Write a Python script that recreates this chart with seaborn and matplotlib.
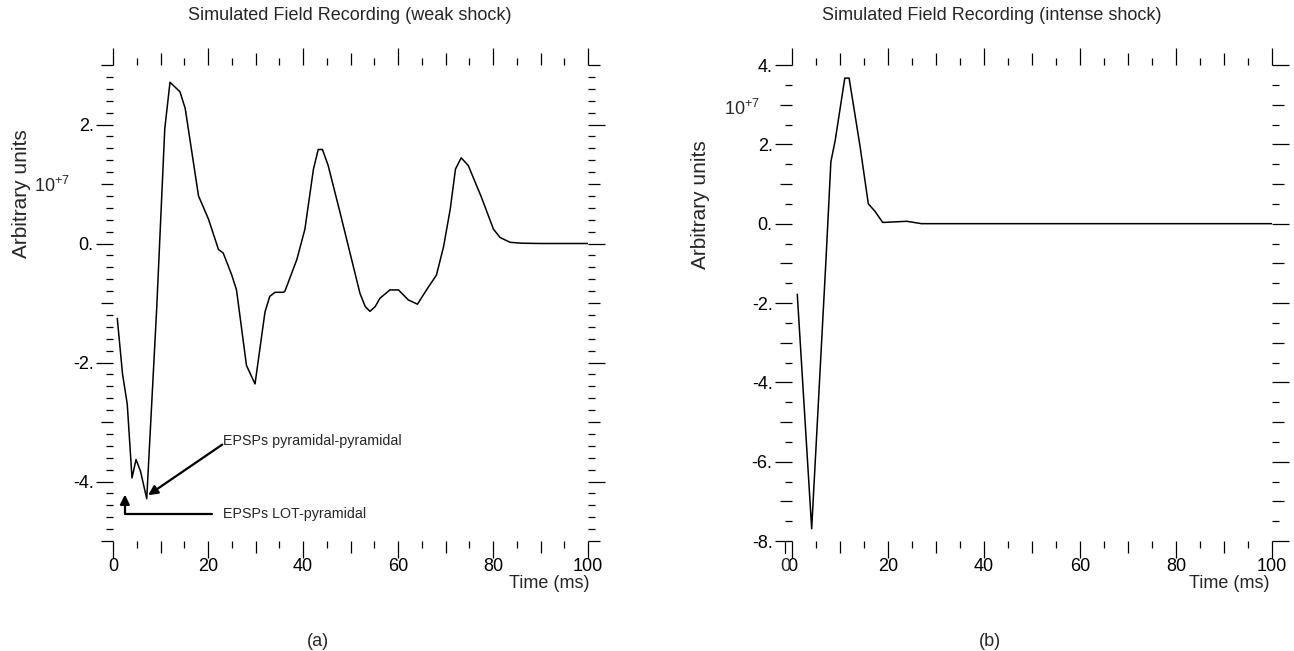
import numpy as np
import seaborn as sns
import matplotlib
matplotlib.use("Agg")
import matplotlib.pyplot as plt
import matplotlib.transforms as mtransforms
from matplotlib.ticker import FixedLocator, FuncFormatter

# values in units of 10^7
weak_t = [0.9, 2.0, 3.0, 4.0, 4.85, 5.8, 7.1, 9.2, 10.9, 12.0, 14.1, 15.2, 18.0, 20.1,
          22.2, 23.2, 25.0, 26.0, 28.1, 29.9, 32.0, 33.0, 34.1, 35.9, 36.2, 38.7, 40.4,
          42.2, 43.2, 44.1, 45.3, 47.8, 49.9, 52.0, 53.1, 54.1, 55.2, 56.2, 58.3, 60.1,
          62.2, 64.1, 66.0, 68.1, 69.6, 71.0, 72.1, 73.3, 74.8, 77.5, 80.1, 81.5, 83.6,
          86.0, 90.0, 100.0]
weak_v = [-1.26, -2.19, -2.70, -3.94, -3.63, -3.83, -4.29, -1.09, 1.93, 2.71, 2.55, 2.27,
          0.80, 0.41, -0.10, -0.16, -0.53, -0.78, -2.05, -2.36, -1.15, -0.89, -0.82,
          -0.82, -0.80, -0.27, 0.24, 1.25, 1.58, 1.58, 1.31, 0.52, -0.16, -0.84, -1.06,
          -1.14, -1.06, -0.92, -0.78, -0.78, -0.95, -1.02, -0.78, -0.53, -0.05, 0.58,
          1.25, 1.44, 1.31, 0.79, 0.24, 0.10, 0.02, 0.005, 0.0, 0.0]

intense_t = [1.1, 4.1, 7.1, 8.1, 9.0, 11.0, 11.9, 14.2, 15.9, 17.3, 18.9, 23.9, 27.0, 100.0]
intense_v = [-1.78, -7.69, -0.86, 1.56, 2.1, 3.67, 3.67, 1.93, 0.50, 0.31, 0.03, 0.06,
             0.0, 0.0]

x_major = [0, 20, 40, 60, 80, 100]
weak_ylim = (-5, 3)
intense_ylim = (-8, 4)

titles = ["Simulated Field Recording (weak shock)",
          "Simulated Field Recording (intense shock)"]

sns.set_theme(style="white")
plt.rcParams["font.family"] = ["Liberation Sans", "DejaVu Sans"]
plt.rcParams["mathtext.fontset"] = "custom"
plt.rcParams["mathtext.rm"] = "Liberation Sans"

fig = plt.figure(figsize=(12.94, 6.51), dpi=100)
W, H = 1294, 651
ax1 = fig.add_axes([113 / W, 110 / H, 475 / W, 476 / H])
ax2 = fig.add_axes([792 / W, 110 / H, 480 / W, 476 / H])
TICK_FS = 13


def style_axis(ax, ylim, ystep_minor):
    ax.set_xlim(0, 100)
    ax.set_ylim(*ylim)
    for s in ax.spines.values():
        s.set_visible(False)
    xminor = [v for v in range(0, 101, 5) if v % 20]
    ymaj = [v for v in range(ylim[0], ylim[1] + 1) if v % 2 == 0]
    n = int(round((ylim[1] - ylim[0]) / ystep_minor))
    ymin_locs = [round(ylim[0] + i * ystep_minor, 2) for i in range(n + 1)]
    ymin_locs = [v for v in ymin_locs if not (abs(v - round(v)) < 1e-6 and round(v) % 2 == 0)]
    ax.xaxis.set_major_locator(FixedLocator(x_major))
    ax.xaxis.set_minor_locator(FixedLocator(xminor))
    ax.yaxis.set_major_locator(FixedLocator(ymaj))
    ax.yaxis.set_minor_locator(FixedLocator(ymin_locs))
    ax.yaxis.set_major_formatter(FuncFormatter(lambda v, p: f"{v:.0f}."))
    ax.tick_params(which="both", direction="out", top=True, right=True,
                   bottom=True, left=True,
                   labeltop=False, labelright=False, labelbottom=True, labelleft=True,
                   color="black", width=0.9,
                   labelsize=TICK_FS, labelcolor="black")
    ax.tick_params(which="major", length=12, pad=2)
    ax.tick_params(which="minor", length=5)
    ax.tick_params(axis="x", which="major", pad=0)
    # medium ticks: tens on x, integers on y
    for tick, loc in zip(ax.xaxis.get_minor_ticks(len(xminor)), xminor):
        if loc % 10 == 0:
            tick.tick1line.set_markersize(8.5)
            tick.tick2line.set_markersize(8.5)
    for tick, loc in zip(ax.yaxis.get_minor_ticks(len(ymin_locs)), ymin_locs):
        if abs(loc - round(loc)) < 1e-6:
            tick.tick1line.set_markersize(8.5)
            tick.tick2line.set_markersize(8.5)
    ax.set_xlabel("")
    ax.set_ylabel("")


sns.lineplot(x=weak_t, y=weak_v, ax=ax1, color="black", linewidth=1.1)
sns.lineplot(x=intense_t, y=intense_v, ax=ax2, color="black", linewidth=1.1)
style_axis(ax1, weak_ylim, 0.2)
style_axis(ax2, intense_ylim, 0.5)

# annotations
ax1.annotate("", xy=(7.4, -4.23), xytext=(23.0, -3.38),
             arrowprops=dict(arrowstyle="-|>", color="black", lw=1.6,
                             mutation_scale=14, shrinkA=0, shrinkB=0))
ax1.text(23.1, -3.32, "EPSPs pyramidal-pyramidal", fontsize=10.3, va="center", ha="left")
ax1.annotate("", xy=(2.5, -4.22), xytext=(20.8, -4.54),
             arrowprops=dict(arrowstyle="-|>", color="black", lw=1.6,
                             mutation_scale=14, shrinkA=0, shrinkB=0,
                             connectionstyle="angle,angleA=0,angleB=90,rad=0"))
ax1.text(23.1, -4.54, "EPSPs LOT-pyramidal", fontsize=10.3, va="center", ha="left")

# exponent labels
ax1.text(-9.0, 0.97, r"10$^{\mathrm{+7}}$", fontsize=TICK_FS, ha="right", va="center")
ax2.text(-6.6, 2.9, r"10$^{\mathrm{+7}}$", fontsize=TICK_FS, ha="right", va="center")

# stray extra zero tick at left of panel (b)
tr = mtransforms.blended_transform_factory(ax2.transData, ax2.transAxes)
ax2.plot([-1.4, -1.4], [0, -0.025], color="black", lw=0.9, transform=tr, clip_on=False)
ax2.text(-1.3, -0.036, "0", fontsize=TICK_FS, ha="center", va="top", transform=tr)

# titles and labels
fig.text(350 / W, 1 - 15 / H, titles[0], fontsize=13, ha="center", va="center")
fig.text(992 / W, 1 - 15 / H, titles[1], fontsize=13, ha="center", va="center")
fig.text(22 / W, 1 - 194 / H, "Arbitrary units", fontsize=15, rotation=90,
         ha="center", va="center")
fig.text(700 / W, 1 - 205 / H, "Arbitrary units", fontsize=15, rotation=90,
         ha="center", va="center")
fig.text(549 / W, 1 - 583 / H, "Time (ms)", fontsize=13, ha="center", va="center")
fig.text(1229 / W, 1 - 583 / H, "Time (ms)", fontsize=13, ha="center", va="center")
fig.text(318 / W, 1 - 641 / H, "(a)", fontsize=13, ha="center", va="center")
fig.text(990 / W, 1 - 641 / H, "(b)", fontsize=13, ha="center", va="center")

fig.savefig("out.png", dpi=100, facecolor="white")
